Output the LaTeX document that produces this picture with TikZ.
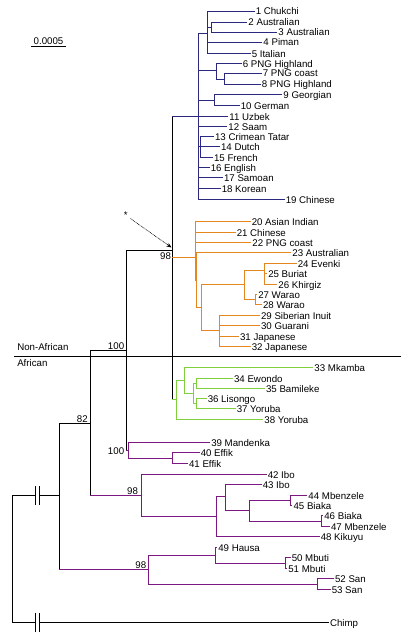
\documentclass[tikz,border=0pt]{standalone}
\usepackage{fontspec}
\setmainfont{Liberation Sans}
\usetikzlibrary{arrows.meta}
\definecolor{trblue}{HTML}{2B2880}
\definecolor{trorange}{HTML}{E5861F}
\definecolor{trgreen}{HTML}{7FD03C}
\definecolor{trpurple}{HTML}{7D1882}
% one clade: vertical bar of the node, then a branch to each child
\newcommand{\cladebr}[5]{%
  \draw[#1] (#2 |- #3) -- (#2 |- #4);
  \foreach \cc in {#5} \draw[#1] (#2 |- \cc) -- (\cc);}
\begin{document}
\begin{tikzpicture}[x=1pt, y=-1pt, line width=1.1pt, line cap=rect,
    lf/.style={anchor=west, inner xsep=1.2pt, inner ysep=0pt, text height=7pt, text depth=0pt, font=\fontsize{9.7}{11}\selectfont},
    bs/.style={inner xsep=1pt, inner ysep=0.8pt, text height=7pt, text depth=0pt, font=\fontsize{9.7}{11}\selectfont}]
  \useasboundingbox (0,0) rectangle (401,634);
  % backbone nodes
  \coordinate (R0) at (12.5,558);
  \coordinate (N59) at (59.5,495.5);
  \coordinate (N91) at (90.5,423.5);
  \coordinate (N126) at (126.5,350.5);
  \coordinate (N172) at (172.5,250.5);
  % blue clade
  \coordinate (B0) at (198.5,116.5);
  \coordinate (bA) at (207.5,33.5);
  \coordinate (bA1) at (211.5,27.5);
  \coordinate (bB) at (216.5,70.5);
  \coordinate (bB1) at (224.5,79.5);
  \coordinate (bC) at (214.5,100.5);
  \coordinate (bD) at (200.5,146.5);
  % orange clade
  \coordinate (oO) at (195.5,257.5);
  \coordinate (oO2) at (196.5,280.5);
  \coordinate (oP) at (201.5,307.5);
  \coordinate (oQ) at (244.5,284.5);
  \coordinate (oS) at (264.5,270.5);
  \coordinate (oT) at (255.5,299.5);
  \coordinate (oR) at (219.5,330.5);
  % green clade
  \coordinate (gG0) at (176.5,399.5);
  \coordinate (gG1) at (184.5,380.5);
  \coordinate (gG2) at (193.5,393.5);
  \coordinate (gG3) at (196.5,383.5);
  \coordinate (gG4) at (196.5,403.5);
  % purple clades
  \coordinate (pA) at (128.5,450.5);
  \coordinate (pA1) at (172.5,458.5);
  \coordinate (pB) at (141.5,495.5);
  \coordinate (pL) at (216.5,516.5);
  \coordinate (pM) at (225.5,496.5);
  \coordinate (pN) at (249.5,510.5);
  \coordinate (pU) at (290.5,500.5);
  \coordinate (pV) at (321.5,521.5);
  \coordinate (pC) at (148.5,569.5);
  \coordinate (pX) at (215.5,555.5);
  \coordinate (pY) at (285.5,563.5);
  \coordinate (pZ) at (317.5,584.5);

  % leaves
  \foreach \n/\xx/\yy/\nm in {1/254/11.5/Chukchi, 2/246.7/22.5/Australian, 3/276.7/32.5/Australian,
      4/261.7/42.5/Piman, 5/250/53.5/Italian, 6/241/63.5/PNG Highland, 7/261/73.5/PNG coast,
      8/260/84.5/PNG Highland, 9/281.7/94.5/Georgian, 10/239/105.5/German, 11/227.7/116.5/Uzbek,
      12/226.7/126.5/Saam, 13/213.3/136.5/Crimean Tatar, 14/219.3/146.5/Dutch, 15/212.3/157.5/French,
      16/209/167.5/English, 17/222.3/177.5/Samoan, 18/220/188.5/Korean, 19/284/199.5/Chinese,
      20/250/221.5/Asian Indian, 21/235/232.5/Chinese, 22/250.7/242.5/PNG coast, 23/290.7/252.5/Australian,
      24/296/263.5/Evenki, 25/266.5/273.5/Buriat, 26/276.7/284.5/Khirgiz, 27/256.5/294.5/Warao,
      28/261.3/304.5/Warao, 29/259.3/315.5/Siberian Inuit, 30/259.3/325.5/Guarani, 31/238.3/336.5/Japanese,
      32/250/346.5/Japanese, 33/312.7/367.5/Mkamba, 34/232.3/378.5/Ewondo, 35/264.3/388.5/Bamileke,
      36/206/398.5/Lisongo, 37/235/408.5/Yoruba, 38/262.7/419.5/Yoruba, 39/209.5/442.5/Mandenka,
      40/199/452.5/Effik, 41/187.3/463.5/Effik, 42/266/474.5/Ibo, 43/261/484.5/Ibo,
      44/306.7/495.5/Mbenzele, 45/291.8/505.5/Biaka, 46/322.6/515.5/Biaka, 47/329.3/526.5/Mbenzele,
      48/319/536.5/Kikuyu, 49/216.6/547.5/Hausa, 50/290/557.5/Mbuti, 51/286.6/568.5/Mbuti,
      52/333.3/578.5/San, 53/330/589.5/San}
    \node[lf] (l\n) at (\xx,\yy) {\n~\nm};
  \node[lf] (chimp) at (328.3,622.5) {Chimp};

  % backbone (black)
  \draw (R0 |- N59) -- (R0 |- chimp);
  \draw (R0 |- N59) -- ++(23,0) ++(0,-8.5) -- ++(0,17) ++(4.3,0) -- ++(0,-17) ++(0,8.5) -- (N59);
  \draw (R0 |- chimp) -- ++(23,0) ++(0,-8.5) -- ++(0,17) ++(4.3,0) -- ++(0,-17) ++(0,8.5) -- (chimp);
  \draw (N59 |- N91) -- (N59 |- pC);
  \draw (N59 |- N91) -- (N91);
  \draw[trpurple] (N59 |- pC) -- (pC);
  \draw (N91 |- N126) -- (N91 |- pB);
  \draw (N91 |- N126) -- (N126);
  \draw[trpurple] (N91 |- pB) -- (pB);
  \draw (N126 |- N172) -- (N126 |- pA);
  \draw (N126 |- N172) -- (N172);
  \draw[trpurple] (N126 |- pA) -- (pA);
  \draw (N172 |- B0) -- (N172 |- gG0);
  \draw[trblue] (N172 |- B0) -- (B0);
  \draw[trorange] (N172 |- oO) -- (oO);
  \draw[trgreen] (N172 |- gG0) -- (gG0);

  % blue
  \cladebr{trblue}{B0}{bA}{l19}{bA,bB,bC,l11,l12,bD,l16,l17,l18,l19}
  \cladebr{trblue}{bA}{l1}{l5}{l1,bA1,l4,l5}
  \cladebr{trblue}{bA1}{l2}{l3}{l2,l3}
  \cladebr{trblue}{bB}{l6}{bB1}{l6,bB1}
  \cladebr{trblue}{bB1}{l7}{l8}{l7,l8}
  \cladebr{trblue}{bC}{l9}{l10}{l9,l10}
  \cladebr{trblue}{bD}{l13}{l15}{l13,l14,l15}
  % orange
  \cladebr{trorange}{oO}{l20}{oO2}{l20,l21,l22,oO2}
  \cladebr{trorange}{oO2}{l23}{oP}{l23,oP}
  \cladebr{trorange}{oP}{oQ}{oR}{oQ,oR}
  \cladebr{trorange}{oQ}{oS}{oT}{oS,oT}
  \cladebr{trorange}{oS}{l24}{l26}{l24,l25,l26}
  \cladebr{trorange}{oT}{l27}{l28}{l27,l28}
  \cladebr{trorange}{oR}{l29}{l32}{l29,l30,l31,l32}
  % green
  \cladebr{trgreen}{gG0}{gG1}{l38}{gG1,l38}
  \cladebr{trgreen}{gG1}{l33}{gG2}{l33,gG2}
  \cladebr{trgreen}{gG2}{gG3}{gG4}{gG3,gG4}
  \cladebr{trgreen}{gG3}{l34}{l35}{l34,l35}
  \cladebr{trgreen}{gG4}{l36}{l37}{l36,l37}
  % purple
  \cladebr{trpurple}{pA}{l39}{pA1}{l39,pA1}
  \cladebr{trpurple}{pA1}{l40}{l41}{l40,l41}
  \cladebr{trpurple}{pB}{l42}{pL}{l42,pL}
  \cladebr{trpurple}{pL}{pM}{l48}{pM,l48}
  \cladebr{trpurple}{pM}{l43}{pN}{l43,pN}
  \cladebr{trpurple}{pN}{pU}{pV}{pU,pV}
  \cladebr{trpurple}{pU}{l44}{l45}{l44,l45}
  \cladebr{trpurple}{pV}{l46}{l47}{l46,l47}
  \cladebr{trpurple}{pC}{pX}{pZ}{pX,pZ}
  \cladebr{trpurple}{pX}{l49}{pY}{l49,pY}
  \cladebr{trpurple}{pY}{l50}{l51}{l50,l51}
  \cladebr{trpurple}{pZ}{l52}{l53}{l52,l53}

  % bootstrap values
  \node[bs, anchor=east] (bs172) at ([yshift=1.3pt]N172 |- oO) {98};
  \node[bs, anchor=south east] (bs126) at ([xshift=-0.8pt]N126) {100};
  \node[bs, anchor=east] (bsA) at ([xshift=-0.8pt]N126 |- pA) {100};
  \node[bs, anchor=south east] (bs91) at ([xshift=-1.2pt]N91) {82};
  \node[bs, anchor=south east] (bsB) at ([xshift=-2pt]pB) {98};
  \node[bs, anchor=south east] (bsC) at ([xshift=-0.8pt]pC) {98};

  % African / non-African divide
  \coordinate (sepL) at (14,356.5);
  \coordinate (sepR) at (401,356.5);
  \draw[line cap=butt] (sepL) -- (sepR);
  \node[lf] (nonafr) at (15.5,347.3) {Non-African};
  \node[lf] (afr) at (15.5,363.3) {African};

  % scale bar
  \node[lf, anchor=center, inner xsep=0pt, minimum width=33pt] (scl) at (48.5,40.7) {0.0005};
  \draw[line width=1.3pt, line cap=butt] ([yshift=-1.8pt]scl.south west) -- ([yshift=-1.8pt]scl.south east);

  % marked node
  \node[bs, inner sep=0pt] (star) at (125.7,215.2) {*};
  \coordinate (tip) at (171.5,247.5);
  \draw[line width=0.6pt, densely dotted, line cap=round, shorten <=3pt, -{Stealth[length=5pt, width=4pt]}] (star) -- (tip);
\end{tikzpicture}
\end{document}
